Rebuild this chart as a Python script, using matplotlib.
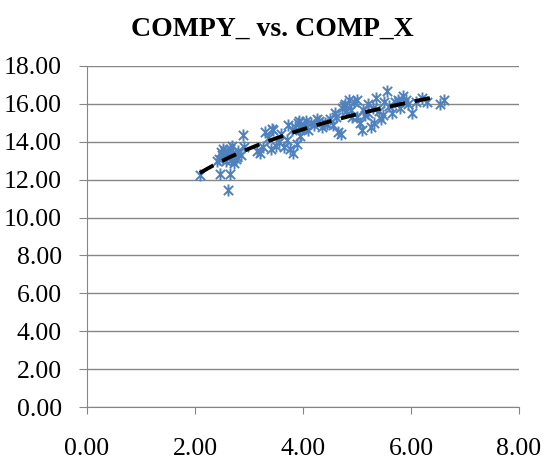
import numpy as np
import matplotlib.pyplot as plt
from matplotlib.path import Path

# === DONNÉES ===
comp_x = [2.09, 2.46, 2.65, 2.61, 2.89, 2.45, 2.50, 2.55, 2.60, 2.65, 2.70, 2.75, 2.80, 2.58, 2.68, 2.85, 2.90, 2.40, 2.72,
          2.52, 2.62, 2.78, 2.48, 2.66,
          3.20, 3.30, 3.43, 3.35, 3.50, 3.55, 3.60, 3.65, 3.70, 3.75, 3.81, 3.85, 3.90, 3.95, 3.40, 3.15, 3.80, 3.88, 3.92,
          3.25, 3.45, 3.72, 3.98,
          4.00, 4.05, 4.10, 4.15, 4.20, 4.30, 4.35, 4.40, 4.50, 4.55, 4.60, 4.65, 4.70, 4.72, 4.75, 4.80, 4.85, 4.90, 4.95, 4.02,
          4.25, 4.45, 4.62, 4.78, 4.88,
          5.00, 5.05, 5.10, 5.15, 5.20, 5.25, 5.30, 5.35, 5.40, 5.45, 5.50, 5.55, 5.60, 5.65, 5.70, 5.75, 5.80, 5.85, 5.90, 5.95,
          6.02, 6.10, 6.20, 6.30, 6.54, 6.62, 5.00, 5.20, 5.12, 5.32, 5.48, 5.78]
compy = [12.25, 12.30, 12.30, 11.45, 14.35, 13.10, 13.30, 13.50, 13.20, 13.60, 13.40, 13.10, 13.50, 13.00, 13.80, 13.30, 13.70, 13.00, 12.90,
         13.60, 13.40, 13.20, 13.45, 13.05,
         13.40, 14.50, 14.70, 14.20, 13.80, 14.00, 14.40, 13.70, 14.10, 13.60, 13.40, 14.80, 15.00, 14.30, 13.60, 13.50, 14.60, 13.90, 15.10,
         13.70, 14.60, 14.90, 14.70,
         14.80, 15.10, 14.60, 15.00, 14.90, 15.10, 14.80, 15.00, 15.20, 14.90, 15.50, 14.50, 14.40, 15.80, 15.90, 15.60, 16.20, 15.30, 16.10, 14.90,
         15.20, 14.95, 15.30, 16.00, 15.70,
         16.20, 15.00, 14.60, 15.40, 16.00, 14.80, 15.80, 16.30, 15.60, 15.20, 16.10, 16.70, 15.90, 15.50, 16.10, 16.20, 15.80, 16.40, 16.20, 16.00,
         15.50, 16.10, 16.30, 16.10, 16.00, 16.20, 15.30, 15.50, 15.70, 15.00, 15.40, 16.10]

titre = "COMPY_ vs. COMP_X"
ticks_x = [0, 2, 4, 6, 8]
ticks_y = [0, 2, 4, 6, 8, 10, 12, 14, 16, 18]

plt.rcParams['font.family'] = ['Liberation Serif', 'DejaVu Serif']

# marqueur étoile d'Excel : un X avec une barre verticale
etoile = Path([(-1, -1), (1, 1), (-1, 1), (1, -1), (0, -1.3), (0, 1.3)],
              [Path.MOVETO, Path.LINETO, Path.MOVETO, Path.LINETO, Path.MOVETO, Path.LINETO])

fig = plt.figure(figsize=(5.45, 4.62), dpi=100)
ax = fig.add_axes([87 / 545, 1 - 407 / 462, (519 - 87) / 545, (407 - 66) / 462])

ax.scatter(comp_x, compy, marker=etoile, s=75, color='#4F81BD', linewidths=1.4, zorder=3)

# courbe de tendance logarithmique
x_arr = np.array(comp_x)
b, a = np.polyfit(np.log(x_arr), np.array(compy), 1)
xt = np.linspace(x_arr.min(), x_arr.max() - 0.12, 100)
ax.plot(xt, a + b * np.log(xt), color='black', linewidth=2.8, dashes=(4, 2.5), zorder=4)

ax.set_xlim(0, 8)
ax.set_ylim(0, 18)
ax.set_xticks(ticks_x)
ax.set_yticks(ticks_y)
ax.set_xticklabels([f"{v:.2f}" for v in ticks_x], fontsize=18.5)
ax.set_yticklabels([f"{v:.2f}" for v in ticks_y], fontsize=18.5)
ax.yaxis.grid(True, color='#868686', linewidth=1)
ax.set_axisbelow(True)
for s in ['top', 'right']:
    ax.spines[s].set_visible(False)
for s in ['left', 'bottom']:
    ax.spines[s].set_color('#868686')
ax.tick_params(axis='x', direction='out', length=5, color='#868686', pad=17)
ax.tick_params(axis='y', direction='out', length=6, color='#868686', pad=12)

fig.suptitle(titre, fontsize=20, fontweight='bold', y=1 - 36 / 462, va='baseline')
fig.savefig('out.png', dpi=100)
plt.close()
